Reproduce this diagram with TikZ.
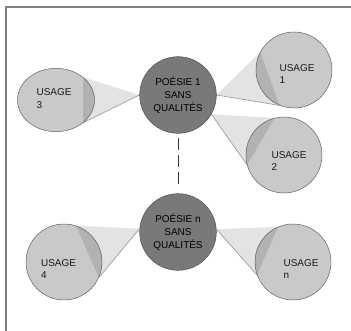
\documentclass[tikz,border=0pt]{standalone}
\usepackage{fontspec}
\setmainfont{Liberation Sans}
\usetikzlibrary{shapes.geometric,backgrounds}
\tikzstyle{poesie}=[draw=black!70,fill=gray!95!black,circle,minimum size=23mm,inner sep=0pt,align=center,font=\fontsize{8.5}{11}\selectfont]
\tikzstyle{usage}=[draw=black!65,fill=black,fill opacity=0.21,draw opacity=1,circle,minimum size=22.8mm,inner sep=0pt]
\tikzstyle{usagewide}=[usage,ellipse,minimum width=23.1mm,minimum height=19mm]
\tikzstyle{lbl}=[align=left,inner sep=0pt,font=\fontsize{8.5}{11}\selectfont,text=black!90]
\tikzstyle{wedge}=[fill=gray!22]
\tikzstyle{wedgeline}=[draw=gray!85,line width=0.5pt]
\tikzstyle{frame}=[draw=gray,line width=1pt]
\tikzstyle{gap}=[draw=black!80,line width=0.8pt,dash pattern=on 3.6mm off 1.5mm]

\begin{document}
\begin{tikzpicture}[x=0.3mm,y=-0.3mm]
\useasboundingbox (0,0) rectangle (351,331);
\draw[frame] (6,331) -- (6,7) -- (351,7);
\node[poesie] (p1) at (178,95) {POÉSIE 1\\SANS\\QUALITÉS};
\node[poesie] (pn) at (178,232) {POÉSIE n\\SANS\\QUALITÉS};
\node[usage] (u1) at (294,70) {};
\node[usage] (u2) at (284,155) {};
\node[usagewide] (u3) at (56,100) {};
\node[usage] (u4) at (64,262) {};
\node[usage] (un) at (293,262) {};
\node[lbl] (t1) at (297,74) {USAGE\\1};
\node[lbl] (t2) at (289,161) {USAGE\\2};
\node[lbl] (t3) at (54,99) {USAGE\\3};
\node[lbl] (t4) at (58.5,269) {USAGE\\4};
\node[lbl] (tn) at (301,269) {USAGE\\n};
\begin{scope}[on background layer]
\fill[wedge] (p1.0) -- (u1.152) -- (u1.-112) -- cycle;
\draw[wedgeline] (p1.0) -- (u1.-112);
\fill[wedge] (p1.-30) -- (u2.104) -- (u2.195) -- cycle;
\draw[wedgeline] (p1.-30) -- (u2.195);
\fill[wedge] (p1.180) -- (u3.40) -- (u3.-40) -- cycle;
\draw[wedgeline] (p1.180) -- (u3.-40);
\fill[wedge] (pn.175) -- (u4.72) -- (u4.-24) -- cycle;
\draw[wedgeline] (pn.175) -- (u4.-24);
\fill[wedge] (pn.4) -- (un.113) -- (un.200) -- cycle;
\draw[wedgeline] (pn.4) -- (un.200);
\end{scope}
\draw[gap,shorten <=1.4mm,shorten >=2mm] (p1) -- (pn);
\end{tikzpicture}
\end{document}
